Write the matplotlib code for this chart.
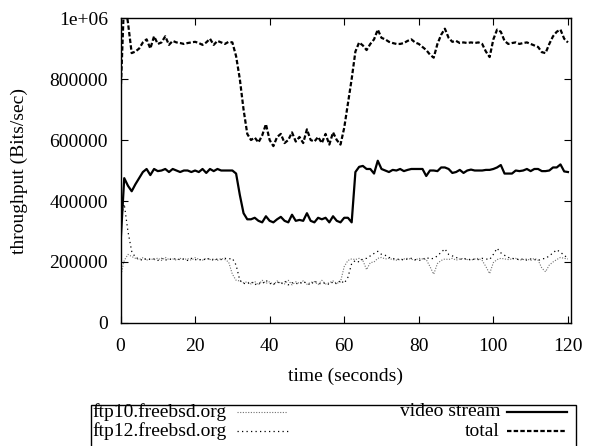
#!/usr/bin/env python3
"""Throughput over time: two ftp transfers, a video stream and their total."""
import numpy as np
import matplotlib
matplotlib.use("Agg")
import matplotlib.pyplot as plt
from matplotlib.lines import Line2D
from matplotlib.patches import Rectangle

# values in kbit/s, one sample per second (t = 0..120)
video_k = [
    260, 475, 450, 432, 455, 475, 495, 505, 485, 505, 498, 500, 505, 495, 505, 500,
    495, 500, 500, 495, 500, 495, 505, 492, 505, 498, 505, 500, 500, 500, 500, 490,
    420, 360, 340, 340, 345, 335, 330, 350, 335, 330, 340, 348, 335, 330, 355, 335,
    338, 335, 360, 335, 330, 345, 340, 345, 330, 350, 335, 330, 345, 345, 330, 495,
    512, 515, 505, 505, 490, 532, 505, 500, 495, 502, 500, 505, 498, 502, 505, 505,
    505, 505, 482, 500, 500, 498, 510, 510, 505, 492, 495, 502, 492, 500, 503, 500,
    500, 500, 502, 502, 505, 510, 518, 490, 490, 490, 500, 498, 500, 505, 498, 505,
    505, 498, 498, 500, 510, 510, 520, 497, 495]
ftp10_k = [
    150, 205, 225, 218, 212, 208, 214, 206, 211, 207, 213, 205, 215, 208, 210, 206,
    212, 208, 211, 206, 214, 209, 206, 212, 208, 210, 205, 212, 208, 200, 160, 140,
    138, 132, 135, 128, 136, 125, 140, 130, 135, 126, 138, 130, 128, 140, 125, 135,
    130, 138, 127, 133, 136, 126, 140, 128, 132, 138, 130, 135, 185, 205, 210, 208,
    212, 205, 175, 198, 200, 212, 215, 210, 212, 208, 206, 208, 210, 212, 209, 206,
    212, 210, 208, 185, 160, 195, 205, 210, 208, 212, 206, 210, 212, 208, 206, 210,
    212, 205, 185, 162, 198, 208, 212, 210, 208, 210, 212, 206, 208, 210, 205, 212,
    206, 180, 168, 190, 200, 208, 215, 212, 210]
ftp12_k = [
    340, 390, 300, 235, 215, 210, 205, 212, 208, 210, 205, 212, 206, 210, 208, 212,
    207, 210, 205, 212, 208, 206, 210, 207, 212, 205, 210, 208, 212, 210, 212, 190,
    140, 130, 128, 136, 125, 132, 128, 140, 130, 126, 135, 128, 138, 125, 132, 130,
    128, 136, 130, 125, 138, 130, 128, 132, 126, 135, 128, 140, 130, 150, 195, 205,
    200, 210, 212, 220, 228, 235, 225, 222, 215, 212, 208, 210, 206, 210, 212, 208,
    205, 208, 215, 210, 212, 220, 232, 243, 225, 220, 215, 210, 208, 212, 206, 210,
    208, 212, 210, 208, 225, 245, 230, 222, 215, 212, 210, 208, 210, 206, 210, 208,
    205, 210, 212, 220, 230, 240, 232, 222, 212]
total_k = [
    740, 1070, 985, 885, 890, 900, 920, 930, 900, 940, 915, 920, 940, 912, 925, 920,
    918, 915, 918, 920, 922, 918, 912, 920, 932, 912, 925, 920, 915, 922, 920, 875,
    800, 700, 620, 600, 608, 592, 615, 652, 600, 580, 610, 620, 590, 600, 625, 595,
    610, 590, 635, 600, 595, 610, 590, 620, 585, 625, 600, 585, 640, 720, 800, 890,
    920, 910, 895, 915, 930, 962, 935, 930, 922, 918, 915, 915, 918, 925, 930, 920,
    915, 905, 895, 880, 870, 915, 945, 965, 935, 922, 925, 918, 920, 918, 920, 918,
    920, 915, 890, 872, 930, 962, 955, 925, 915, 918, 920, 915, 918, 920, 915, 910,
    905, 888, 885, 915, 940, 955, 962, 932, 920]

x_ticks = [0, 20, 40, 60, 80, 100, 120]
y_ticks = [0, 200000, 400000, 600000, 800000, 1000000]
y_tick_labels = ["0", "200000", "400000", "600000", "800000", "1e+06"]

plt.rcParams["font.family"] = ["Liberation Serif", "DejaVu Serif"]
FS = 14

fig = plt.figure(figsize=(5.91, 4.46), dpi=100)
ax = fig.add_axes([0.2039, 0.2758, 0.7621, 0.6838])

t = np.arange(len(video_k))
to_bits = lambda v: np.asarray(v, dtype=float) * 1000

styles = {
    "ftp10": dict(color="#707070", lw=0.8, ls=(0, (1, 1.4))),
    "ftp12": dict(color="black", lw=0.9, ls=(0, (1, 2.6))),
    "video": dict(color="black", lw=1.6, ls="-"),
    "total": dict(color="black", lw=1.6, ls=(0, (2, 1))),
}

ax.plot(t, to_bits(ftp10_k), **styles["ftp10"])
ax.plot(t, to_bits(ftp12_k), **styles["ftp12"])
ax.plot(t, to_bits(video_k), **styles["video"])
ax.plot(t, to_bits(total_k), **styles["total"])

ax.set_xlim(0, 120.8)
ax.set_ylim(0, 1000000)
ax.set_xticks(x_ticks)
ax.set_yticks(y_ticks)
ax.set_yticklabels(y_tick_labels)
ax.tick_params(direction="in", length=5, width=0.8, top=True, right=True,
               labelsize=FS)
ax.tick_params(axis="y", pad=9)
ax.tick_params(axis="x", pad=11)
for s in ax.spines.values():
    s.set_linewidth(1.0)
ax.set_xlabel("time (seconds)", fontsize=FS)
ax.set_ylabel("throughput (Bits/sec)", fontsize=FS)
ax.xaxis.set_label_coords(0.5, -0.148)
ax.yaxis.set_label_coords(-0.205, 0.5)

# legend box below the plot, gnuplot style (text right-justified, sample right)
W, H = 591.0, 446.0
fx = lambda px: px / W
fy = lambda py: 1 - py / H
fig.patches.append(Rectangle((fx(91), fy(448)), fx(576) - fx(91), fy(405) - fy(448),
                             transform=fig.transFigure, fill=False, lw=1.0,
                             edgecolor="black"))
entries = [
    ("ftp10.freebsd.org", "ftp10", 227, 237, 287, 412),
    ("ftp12.freebsd.org", "ftp12", 227, 237, 290, 431),
    ("video stream", "video", 500, 507, 567, 412),
    ("total", "total", 500, 507, 567, 431),
]
for label, key, tx, x0, x1, yy in entries:
    fig.text(fx(tx), fy(yy), label, ha="right", va="center", fontsize=FS)
    st = styles[key]
    fig.lines.append(Line2D([fx(x0), fx(x1)], [fy(yy), fy(yy)],
                            transform=fig.transFigure, color=st["color"],
                            lw=st["lw"], ls=st["ls"]))

fig.savefig("out.png", dpi=100)
